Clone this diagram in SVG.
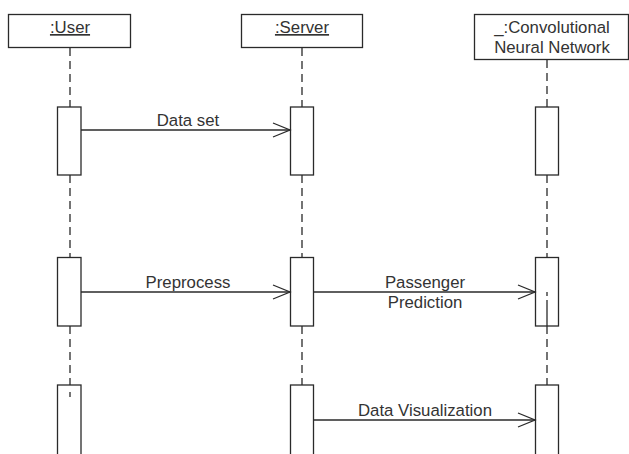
<svg xmlns="http://www.w3.org/2000/svg" width="629" height="454" viewBox="0 0 629 454">
<style>
.box{fill:#fff;stroke:#2a2a2a;stroke-width:1.3}
.life{stroke:#2a2a2a;stroke-width:1.3;stroke-dasharray:8 5;fill:none}
.msg{stroke:#2a2a2a;stroke-width:1.3;fill:none}
.head{stroke:#2a2a2a;stroke-width:1.3;fill:none}
text{font-family:"Liberation Sans",Arial,sans-serif;font-size:16.8px;fill:#333;text-anchor:middle}
.u{text-decoration:underline}
</style>
<rect width="629" height="454" fill="#fff"/>
<g id="connectors">
<line class="life" x1="70" y1="48" x2="70" y2="107"/>
<line class="life" x1="70" y1="175" x2="70" y2="257"/>
<line class="life" x1="70" y1="326" x2="70" y2="385"/>
<line class="life" x1="302" y1="48" x2="302" y2="107"/>
<line class="life" x1="302" y1="175" x2="302" y2="257"/>
<line class="life" x1="302" y1="326" x2="302" y2="385"/>
<line class="life" x1="547" y1="60" x2="547" y2="107"/>
<line class="life" x1="547" y1="175" x2="547" y2="257"/>
<line class="life" x1="547" y1="326" x2="547" y2="385"/>
</g>
<g id="user">
<rect class="box" x="8.5" y="14.5" width="122" height="33"/>
<text class="u" x="70" y="33">:User</text>
<rect class="box" x="57.5" y="107" width="23.5" height="68"/>
<rect class="box" x="57.5" y="257.5" width="23.5" height="68.5"/>
<rect class="box" x="57.5" y="385" width="23.5" height="75"/>
<line class="msg" x1="70" y1="392" x2="70" y2="397"/>
</g>
<g id="server">
<rect class="box" x="241.5" y="14.5" width="121" height="33"/>
<text class="u" x="302" y="33">:Server</text>
<rect class="box" x="290.5" y="107" width="23" height="68"/>
<rect class="box" x="290.5" y="257.5" width="23" height="68.5"/>
<rect class="box" x="290.5" y="385" width="23" height="75"/>
</g>
<g id="cnn">
<rect class="box" x="474.5" y="14.5" width="154" height="45"/>
<text x="552" y="33">_:Convolutional</text>
<text x="552" y="52.5">Neural Network</text>
<rect class="box" x="535.5" y="107" width="23" height="68"/>
<rect class="box" x="535.5" y="257.5" width="23" height="68.5"/>
<line class="msg" x1="547" y1="292" x2="547" y2="296"/>
<line class="msg" x1="547" y1="300" x2="547" y2="326"/>
<rect class="box" x="535.5" y="385" width="23" height="75"/>
</g>
<g id="messages">
<line class="msg" x1="81" y1="130" x2="290" y2="130"/>
<polyline class="head" points="273,123 290,130 273,137"/>
<text x="188" y="126">Data set</text>
<line class="msg" x1="81" y1="292" x2="290" y2="292"/>
<polyline class="head" points="273,285 290,292 273,299"/>
<text x="188" y="288">Preprocess</text>
<line class="msg" x1="313.5" y1="292" x2="535" y2="292"/>
<polyline class="head" points="518,285 535,292 518,299"/>
<text x="425" y="288">Passenger</text>
<text x="425" y="307.5">Prediction</text>
<line class="msg" x1="313.5" y1="420" x2="535" y2="420"/>
<polyline class="head" points="518,413 535,420 518,427"/>
<text x="425" y="416">Data Visualization</text>
</g>
</svg>
